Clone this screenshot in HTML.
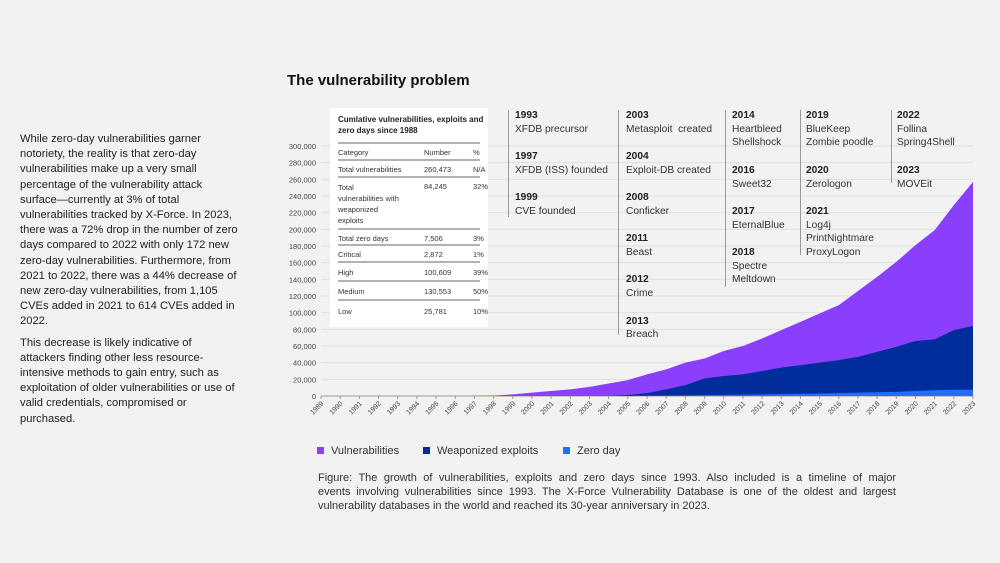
<!DOCTYPE html>
<html><head><meta charset="utf-8">
<style>
body{margin:0;background:#f2f2f2;font-family:"Liberation Sans",sans-serif;color:#222;}
#page{position:relative;width:1000px;height:563px;overflow:hidden;background:#f2f2f2;}
.intro{position:absolute;left:20px;top:132px;width:240px;font-size:11.2px;line-height:15.2px;color:#222;white-space:nowrap;}
.intro p{margin:0 0 6px 0;}
h1{position:absolute;left:287px;top:72px;margin:0;font-size:15px;font-weight:bold;color:#111;}
.tbl{position:absolute;left:330px;top:108px;width:158px;height:219px;background:#fff;font-size:7.5px;color:#333;}
.tl{position:absolute;font-size:10.2px;line-height:13.7px;color:#333;white-space:nowrap;}
.tl b{color:#222;}
.vl{position:absolute;width:1px;background:#999;}
.caption{position:absolute;left:318px;top:471px;width:578px;font-size:11px;line-height:14px;color:#333;}
.caption div{white-space:nowrap;}
.caption .j{text-align:justify;text-align-last:justify;white-space:normal;}
.legend{position:absolute;top:445px;font-size:11px;color:#333;white-space:nowrap;}
.legend span.sw{display:inline-block;width:7px;height:7px;margin-right:7px;vertical-align:0px;}
</style></head><body>
<div id="page">
<div class="intro">
<p>While zero-day vulnerabilities garner<br>notoriety, the reality is that zero-day<br>vulnerabilities make up a very small<br>percentage of the vulnerability attack<br>surface—currently at 3% of total<br>vulnerabilities tracked by X-Force. In 2023,<br>there was a 72% drop in the number of zero<br>days compared to 2022 with only 172 new<br>zero-day vulnerabilities. Furthermore, from<br>2021 to 2022, there was a 44% decrease of<br>new zero-day vulnerabilities, from 1,105<br>CVEs added in 2021 to 614 CVEs added in<br>2022.</p>
<p>This decrease is likely indicative of<br>attackers finding other less resource-<br>intensive methods to gain entry, such as<br>exploitation of older vulnerabilities or use of<br>valid credentials, compromised or<br>purchased.</p>
</div>
<h1>The vulnerability problem</h1>

<svg id="chart" width="1000" height="563" style="position:absolute;left:0;top:0"></svg>

<div class="tbl">
<div style="position:absolute;left:8px;top:6px;font-weight:bold;font-size:8px;line-height:11px;color:#222">Cumlative vulnerabilities, exploits and<br>zero days since 1988</div>
<svg width="158" height="219" style="position:absolute;left:0;top:0">
<g stroke="#666" stroke-width="1">
<line x1="8" x2="150" y1="35" y2="35"/><line x1="8" x2="150" y1="52" y2="52"/><line x1="8" x2="150" y1="69" y2="69"/>
<line x1="8" x2="150" y1="121" y2="121"/><line x1="8" x2="150" y1="137" y2="137"/><line x1="8" x2="150" y1="154" y2="154"/>
<line x1="8" x2="150" y1="173" y2="173"/><line x1="8" x2="150" y1="192" y2="192"/></g></svg>
<div style="position:absolute;left:8px;top:40px">Category</div><div style="position:absolute;left:94px;top:40px">Number</div><div style="position:absolute;left:143px;top:40px">%</div>
<div style="position:absolute;left:8px;top:57px">Total vulnerabilities</div><div style="position:absolute;left:94px;top:57px">260,473</div><div style="position:absolute;left:143px;top:57px">N/A</div>
<div style="position:absolute;left:8px;top:74px;line-height:11px">Total<br>vulnerabilities with<br>weaponized<br>exploits</div><div style="position:absolute;left:94px;top:74px">84,245</div><div style="position:absolute;left:143px;top:74px">32%</div>
<div style="position:absolute;left:8px;top:126px">Total zero days</div><div style="position:absolute;left:94px;top:126px">7,506</div><div style="position:absolute;left:143px;top:126px">3%</div>
<div style="position:absolute;left:8px;top:142px">Critical</div><div style="position:absolute;left:94px;top:142px">2,872</div><div style="position:absolute;left:143px;top:142px">1%</div>
<div style="position:absolute;left:8px;top:160px">High</div><div style="position:absolute;left:94px;top:160px">100,609</div><div style="position:absolute;left:143px;top:160px">39%</div>
<div style="position:absolute;left:8px;top:179px">Medium</div><div style="position:absolute;left:94px;top:179px">130,553</div><div style="position:absolute;left:143px;top:179px">50%</div>
<div style="position:absolute;left:8px;top:199px">Low</div><div style="position:absolute;left:94px;top:199px">25,781</div><div style="position:absolute;left:143px;top:199px">10%</div>
</div>

<div class="vl" style="left:508px;top:110px;height:107px"></div>
<div class="vl" style="left:618px;top:110px;height:225px"></div>
<div class="vl" style="left:725px;top:110px;height:177px"></div>
<div class="vl" style="left:800px;top:110px;height:145px"></div>
<div class="vl" style="left:891px;top:110px;height:73px"></div>

<div class="tl" style="left:515px;top:109px"><b>1993</b><br>XFDB precursor<br><br><b>1997</b><br>XFDB (ISS) founded<br><br><b>1999</b><br>CVE founded</div>
<div class="tl" style="left:626px;top:109px"><b>2003</b><br>Metasploit&nbsp; created<br><br><b>2004</b><br>Exploit-DB created<br><br><b>2008</b><br>Conficker<br><br><b>2011</b><br>Beast<br><br><b>2012</b><br>Crime<br><br><b>2013</b><br>Breach</div>
<div class="tl" style="left:732px;top:109px"><b>2014</b><br>Heartbleed<br>Shellshock<br><br><b>2016</b><br>Sweet32<br><br><b>2017</b><br>EternalBlue<br><br><b>2018</b><br>Spectre<br>Meltdown</div>
<div class="tl" style="left:806px;top:109px"><b>2019</b><br>BlueKeep<br>Zombie poodle<br><br><b>2020</b><br>Zerologon<br><br><b>2021</b><br>Log4j<br>PrintNightmare<br>ProxyLogon</div>
<div class="tl" style="left:897px;top:109px"><b>2022</b><br>Follina<br>Spring4Shell<br><br><b>2023</b><br>MOVEit</div>

<div class="legend" style="left:317px"><span class="sw" style="background:#8a3ffc"></span>Vulnerabilities</div>
<div class="legend" style="left:423px"><span class="sw" style="background:#002d9c"></span>Weaponized exploits</div>
<div class="legend" style="left:563px"><span class="sw" style="background:#1f70ff"></span>Zero day</div>

<div class="caption">
<div class="j">Figure: The growth of vulnerabilities, exploits and zero days since 1993. Also included is a timeline of major</div>
<div class="j">events involving vulnerabilities since 1993. The X-Force Vulnerability Database is one of the oldest and largest</div>
<div>vulnerability databases in the world and reached its 30-year anniversary in 2023.</div>
</div>
</div>
<script>
const years=[1989,1990,1991,1992,1993,1994,1995,1996,1997,1998,1999,2000,2001,2002,2003,2004,2005,2006,2007,2008,2009,2010,2011,2012,2013,2014,2015,2016,2017,2018,2019,2020,2021,2022,2023];
const vulnerabilities=[0,0,0,0,0,0,0,0,0,500,2000,4000,6000,8000,11000,15000,19000,26000,32000,40000,45000,54000,60000,69000,79000,89000,99000,109000,126000,143000,161000,181000,199000,229000,257000];
const weaponized=[0,0,0,0,0,0,0,0,0,0,0,0,0,0,0,0,1000,3500,8000,13000,21000,24000,26000,30000,34000,37000,40000,43000,47000,53000,59000,66000,68000,79000,84000];
const zeroDay=[0,0,0,0,0,0,0,0,0,0,0,0,0,0,0,0,200,400,600,800,1000,1300,1600,2000,2300,2600,3000,3500,4000,4500,5000,6000,7000,7500,7500];
const yTicks=[0,20000,40000,60000,80000,100000,120000,140000,160000,180000,200000,220000,240000,260000,280000,300000];
const NS='http://www.w3.org/2000/svg';
const svg=document.getElementById('chart');
const x0=321,x1=973,yb=396,yt=146,ymax=300000;
const xs=i=>x0+(x1-x0)*i/(years.length-1);
const ys=v=>yb-(yb-yt)*v/ymax;
function mk(t,a){const e=document.createElementNS(NS,t);for(const k in a)e.setAttribute(k,a[k]);svg.appendChild(e);return e;}
yTicks.forEach(v=>{
  const g=mk('line',{x1:x0,x2:x1,y1:ys(v),y2:ys(v),stroke:v===0?'#999':'#e0e0e0','stroke-width':1});
  
  
  const t=mk('text',{x:316,y:ys(v)+3,'text-anchor':'end','font-size':'7.5',fill:'#444','font-family':'Liberation Sans, sans-serif'});
  t.textContent=v.toLocaleString('en-US');
  
  
});
function area(vals,color,name){
  let d='M'+xs(0)+','+ys(0);
  vals.forEach((v,i)=>{d+=' L'+xs(i)+','+ys(v);});
  d+=' L'+xs(vals.length-1)+','+ys(0)+' Z';
  const p=mk('path',{d:d,fill:color});
  
  
}
area(vulnerabilities,'#8a3ffc','vulnerabilities-area');
area(weaponized,'#002d9c','weaponized-area');
area(zeroDay,'#1f70ff','zero-day-area');
years.forEach((y,i)=>{
  const tk=mk('line',{x1:xs(i),x2:xs(i),y1:yb,y2:yb+3,stroke:'#999'});
  
  
  const t=mk('text',{x:xs(i)+3,y:yb+8,'text-anchor':'end','font-size':'7',fill:'#444','font-family':'Liberation Sans, sans-serif',transform:'rotate(-45 '+(xs(i)+3)+' '+(yb+8)+')'});
  t.textContent=y;
  
  
});
</script>
</body></html>
